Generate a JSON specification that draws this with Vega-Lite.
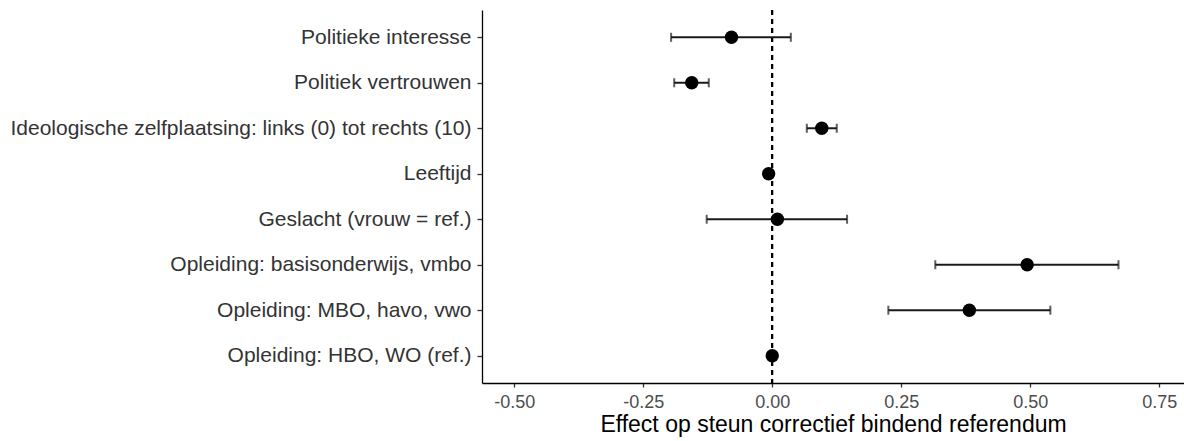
{
  "$schema": "https://vega.github.io/schema/vega-lite/v6.json",
  "autosize": {"type": "none"},
  "width": 702,
  "height": 373,
  "padding": {"left": 482, "top": 10, "right": 0, "bottom": 58},
  "background": "white",
  "config": {
    "view": {"stroke": null},
    "font": "Liberation Sans",
    "axis": {
      "grid": false,
      "domainColor": "black",
      "domainWidth": 1.3,
      "tickColor": "#333333",
      "tickWidth": 1.3,
      "tickSize": 5,
      "labelFont": "Liberation Sans",
      "labelColor": "#4d4d4d",
      "titleFont": "Liberation Sans",
      "titleFontWeight": "normal",
      "titleColor": "black",
      "titleFontSize": 23
    }
  },
  "data": {
    "values": [
      {"var": "Politieke interesse", "est": -0.079, "lower": -0.196, "upper": 0.036},
      {"var": "Politiek vertrouwen", "est": -0.156, "lower": -0.19, "upper": -0.123},
      {"var": "Ideologische zelfplaatsing: links (0) tot rechts (10)", "est": 0.096, "lower": 0.067, "upper": 0.125},
      {"var": "Leeftijd", "est": -0.007, "lower": -0.011, "upper": -0.003},
      {"var": "Geslacht (vrouw = ref.)", "est": 0.01, "lower": -0.127, "upper": 0.145},
      {"var": "Opleiding: basisonderwijs, vmbo", "est": 0.494, "lower": 0.316, "upper": 0.671},
      {"var": "Opleiding: MBO, havo, vwo", "est": 0.382, "lower": 0.225, "upper": 0.539},
      {"var": "Opleiding: HBO, WO (ref.)", "est": 0.0, "lower": null, "upper": null}
    ]
  },
  "encoding": {
    "y": {
      "field": "var",
      "type": "nominal",
      "sort": null,
      "scale": {"type": "point", "padding": 0.6},
      "axis": {"title": null, "labelPadding": 6, "labelFontSize": 21, "labelLimit": 0, "labelColor": "#333333"}
    }
  },
  "layer": [
    {
      "mark": {"type": "rule", "strokeDash": [5, 4], "strokeWidth": 1.6, "color": "black"},
      "encoding": {"x": {"datum": 0}, "y": null}
    },
    {
      "transform": [{"filter": "datum.lower != null"}],
      "mark": {"type": "errorbar", "thickness": 2, "color": "#1a1a1a", "ticks": {"size": 9, "thickness": 2, "color": "#1a1a1a"}},
      "encoding": {
        "x": {"field": "lower", "type": "quantitative", "title": "Effect op steun correctief bindend referendum"},
        "x2": {"field": "upper"}
      }
    },
    {
      "mark": {"type": "circle", "size": 180, "color": "black", "opacity": 1},
      "encoding": {
        "x": {
          "field": "est",
          "type": "quantitative",
          "title": "Effect op steun correctief bindend referendum",
          "scale": {"domain": [-0.5625, 0.798], "nice": false, "zero": false},
          "axis": {
            "title": "Effect op steun correctief bindend referendum",
            "values": [-0.5, -0.25, 0, 0.25, 0.5, 0.75],
            "labelExpr": "datum.value < 0 ? '-' + format(-datum.value, '.2f') : format(datum.value, '.2f')",
            "labelFontSize": 18,
            "tickSize": 4,
            "labelPadding": 6,
            "titlePadding": 2
          }
        }
      }
    }
  ]
}
